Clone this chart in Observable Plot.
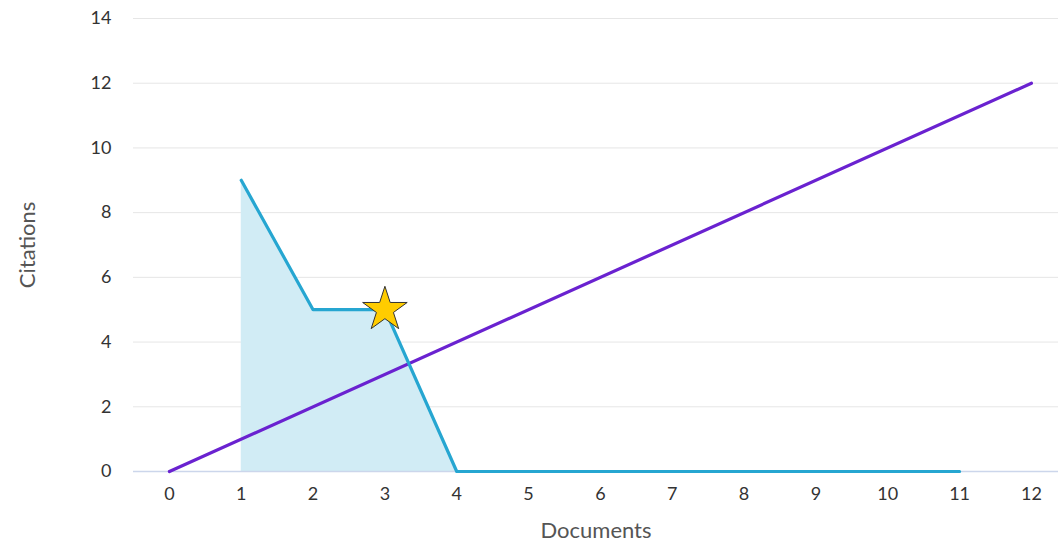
<!DOCTYPE html>
<html>
<head>
<meta charset="utf-8">
<script src="https://cdn.jsdelivr.net/npm/d3@7"></script>
<script src="https://cdn.jsdelivr.net/npm/@observablehq/plot@0.6"></script>
<style>
  html, body { margin: 0; padding: 0; background: #fff; overflow: hidden; }
  #chart svg { display: block; }
</style>
</head>
<body>
<div id="chart"></div>
<script>
// Data
const documents = [1, 2, 3, 4, 5, 6, 7, 8, 9, 10, 11];
const citations = [9, 5, 5, 0, 0, 0, 0, 0, 0, 0, 0];
const diagonalX = [0, 12];
const diagonalY = [0, 12];
const hIndexPoint = [{x: 3, y: 5}];
const xTicks = [0, 1, 2, 3, 4, 5, 6, 7, 8, 9, 10, 11, 12];
const yTicks = [0, 2, 4, 6, 8, 10, 12, 14];

const cites = documents.map((d, i) => ({x: d, y: citations[i]}));
const diag = diagonalX.map((d, i) => ({x: d, y: diagonalY[i]}));

const plot = Plot.plot({
  width: 1058,
  height: 549,
  marginLeft: 133,
  marginRight: 0,
  marginTop: 18,
  marginBottom: 78,
  style: {fontFamily: "Lato, 'Open Sans', sans-serif", fontSize: "18px", color: "#333", background: "#fff"},
  x: {domain: [-0.5, 12.377], ticks: xTicks, tickSize: 0, tickPadding: 16, label: null},
  y: {domain: [0, 14], ticks: yTicks, tickSize: 0, tickPadding: 22, label: null, grid: false},
  marks: [
    Plot.gridY(yTicks, {stroke: "#e6e6e6", strokeOpacity: 1, strokeWidth: 1}),
    Plot.areaY(cites, {x: "x", y: "y", fill: "#d1ecf5", fillOpacity: 1}),
    Plot.ruleY([0], {stroke: "#ccd6eb", strokeWidth: 1.5}),
    Plot.line(diag, {x: "x", y: "y", stroke: "#6a22d0", strokeWidth: 3.2}),
    Plot.line(cites, {x: "x", y: "y", stroke: "#26a6d1", strokeWidth: 3.2}),
    Plot.dot(hIndexPoint, {x: "x", y: "y", symbol: "star", r: 14, fill: "#ffcc00", stroke: "#333", strokeWidth: 1}),
    Plot.axisX(xTicks, {tickSize: 0, tickPadding: 16, fontSize: 18, fill: "#333", label: null}),
    Plot.axisY(yTicks, {tickSize: 0, tickPadding: 22, fontSize: 18, fill: "#333", label: null}),
    Plot.text(["Documents"], {frameAnchor: "bottom", dy: 66, fontSize: 22, fill: "#555"}),
    Plot.text(["Citations"], {frameAnchor: "left", textAnchor: "middle", dx: -106, rotate: -90, fontSize: 22, fill: "#555"})
  ]
});
document.getElementById("chart").appendChild(plot);
</script>
</body>
</html>
